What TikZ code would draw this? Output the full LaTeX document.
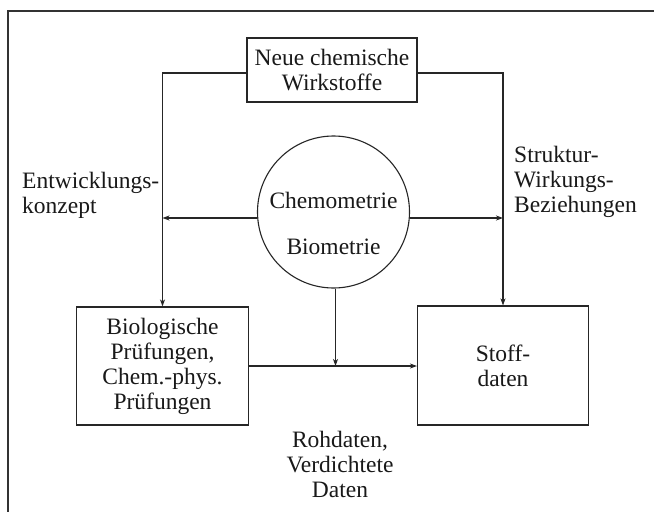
\documentclass[tikz,border=0pt]{standalone}
\usepackage{fontspec}
\setmainfont{Liberation Serif}
\usetikzlibrary{arrows.meta}
\tikzset{
  ink/.style={draw=black!85, line width=1.1pt},
  txt/.style={inner sep=0pt, font=\fontsize{23.5}{25}\selectfont, text=black!90},
  boxnode/.style={ink, txt, rectangle, align=center},
  lbl/.style={txt, align=center},
  lbll/.style={txt, align=left},
  arr/.style={ink, -{Stealth[length=7pt,width=5pt,inset=2pt]}},
  frameline/.style={draw=black!80, line width=1.8pt}
}
\begin{document}
\begin{tikzpicture}[x=1pt,y=-1pt]
\useasboundingbox (0,0) rectangle (654,512);
\fill[white] (0,0) rectangle (654,512);
% frame
\coordinate (f1) at (654,11);
\coordinate (f2) at (8,11);
\coordinate (f3) at (8,512);
\draw[frameline] (f1) -- (f2) -- (f3);
% nodes
\node[boxnode, minimum width=170pt, minimum height=64pt] (top) at (332,70) {Neue chemische\\Wirkstoffe};
\node[ink, circle, minimum size=152pt, inner sep=0pt] (circ) at (333.5,212) {};
\node[lbl] (chem) at (333.5,200) {Chemometrie};
\node[lbl] (bio) at (333.5,247) {Biometrie};
\node[boxnode, minimum width=172pt, minimum height=118pt] (bl) at (162.5,366) {Biologische\\Prüfungen,\\Chem.-phys.\\Prüfungen};
\node[boxnode, minimum width=171pt, minimum height=119pt] (br) at (503,365.5) {Stoff-\\daten};
\node[lbl] (roh) at (340,464) {Rohdaten,\\Verdichtete\\Daten};
\node[lbll, anchor=west] (entw) at (22,195) {Entwicklungs-\\konzept};
\node[lbll, anchor=west] (strk) at (514,182) {Struktur-\\Wirkungs-\\Beziehungen};
% connectors
\draw[arr] ([yshift=-3pt]top.west) -| (bl.north);
\draw[arr] ([yshift=-3pt]top.east) -| (br.north);
\draw[arr] ([yshift=-6pt]circ.west) -- ([yshift=-6pt]circ.west -| bl.north);
\draw[arr] ([yshift=-6pt]circ.east) -- ([yshift=-6pt]circ.east -| br.north);
\draw[arr] ([xshift=2pt]circ.south) -- ([xshift=2pt]circ.south |- bl.east);
\draw[arr] (bl.east) -- (bl.east -| br.west);
\end{tikzpicture}
\end{document}
